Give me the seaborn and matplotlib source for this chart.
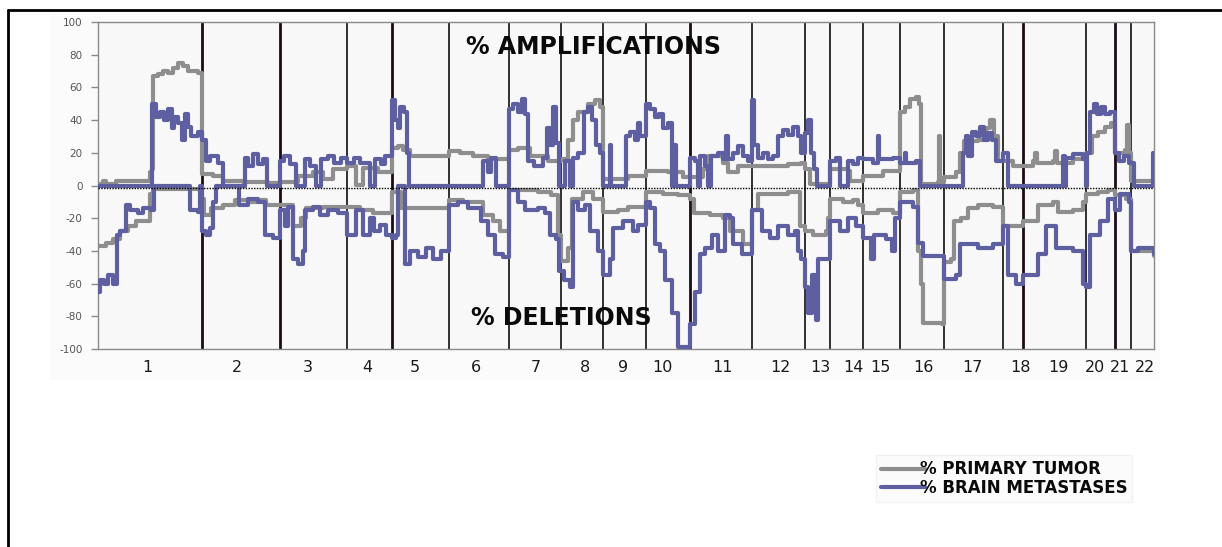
import matplotlib

# Agg backend, no display available
matplotlib.use('Agg')
import matplotlib.pyplot as plt
import seaborn as sns
import pandas as pd
from matplotlib.lines import Line2D
from matplotlib.patches import Rectangle

# ---------------------------------------------------------------
# Data (genome position index 0..1056, percent of cases)
# ---------------------------------------------------------------
chrom_bounds = [0, 104, 182, 249, 294, 351, 411, 463, 505, 548, 592, 654,
                707, 732, 765, 802, 846, 905, 925, 988, 1017, 1033, 1056]
thick_bounds = [104, 182, 294, 592, 925, 1017]
chrom_names = [str(i) for i in range(1, 23)]
chrom_label_pos = [49, 139, 210, 269, 317, 378, 438, 487, 525, 564, 625, 682,
                   722, 755, 782, 825, 874, 923, 960, 997, 1022, 1047]
y_ticks = [-100, -80, -60, -40, -20, 0, 20, 40, 60, 80, 100]

# step breakpoints: (position, percent)
tumor_amp = [
    (0, 1), (5, 3), (8, 1), (18, 3), (47, 3), (52, 8), (54, 10), (55, 67), (60, 68),
    (65, 70), (70, 69), (75, 72), (80, 75), (85, 73), (90, 70), (100, 69),
    (104, 7), (115, 6), (125, 3), (145, 2), (170, 1.5),
    (182, 2), (200, 6), (215, 8), (225, 4), (235, 10),
    (249, 12), (258, 0.5), (265, 11), (280, 8),
    (294, 23), (300, 24), (305, 22), (312, 18),
    (351, 21), (362, 20), (375, 18), (390, 16),
    (411, 22), (420, 23), (432, 18), (450, 15),
    (463, 16), (470, 28), (475, 40), (480, 45), (490, 50), (497, 52), (502, 48),
    (505, 4), (530, 6),
    (548, 9), (570, 8), (585, 5),
    (592, 5), (605, 10), (610, 18), (625, 14), (630, 8), (640, 12),
    (654, 12), (690, 13), (703, 14),
    (707, 10), (712, 1),
    (732, 10), (750, 9), (752, 3),
    (765, 6), (785, 9),
    (802, 45), (807, 48), (812, 53), (818, 54), (821, 50), (823, 1), (840, 2),
    (841, 30), (842, 2),
    (846, 5), (858, 8), (862, 20), (866, 27), (880, 28), (888, 35), (892, 40),
    (896, 30), (900, 15),
    (905, 15), (915, 12),
    (925, 12), (935, 15), (937, 20), (939, 14), (955, 15), (957, 21), (959, 14),
    (975, 16),
    (988, 20), (994, 30), (1000, 33), (1007, 36), (1013, 38),
    (1017, 20), (1027, 22), (1029, 37), (1031, 20),
    (1033, 3), (1056, 4),
]

brain_amp = [
    (0, 0), (54, 50), (58, 42), (62, 45), (66, 40), (70, 47), (74, 35), (76, 42),
    (80, 38), (84, 28), (87, 44), (90, 36), (93, 30), (100, 33),
    (104, 28), (108, 15), (112, 18), (120, 14), (125, 0),
    (147, 17), (150, 12), (155, 19), (160, 13), (165, 16), (169, 0),
    (182, 15), (186, 18), (192, 13), (198, 0), (207, 16), (212, 12), (218, 0),
    (223, 16), (230, 18), (236, 14), (243, 17),
    (249, 14), (256, 17), (262, 14), (272, 0), (277, 16), (283, 13), (287, 18),
    (294, 52), (297, 40), (300, 35), (302, 48), (306, 45), (309, 20), (311, 0),
    (385, 15), (390, 8), (393, 17), (398, 0),
    (411, 47), (415, 50), (420, 45), (424, 53), (427, 44), (430, 15), (436, 12),
    (445, 17), (449, 35), (452, 25), (455, 48), (458, 26), (461, 0),
    (467, 15), (472, 0), (475, 17), (480, 20), (486, 45), (490, 48), (494, 40),
    (498, 25), (502, 20),
    (505, 0), (512, 25), (513, 0), (528, 30), (532, 33), (537, 28), (540, 38),
    (542, 30),
    (548, 50), (552, 47), (557, 42), (561, 44), (565, 35), (570, 38), (574, 0),
    (576, 25), (578, 0),
    (592, 17), (597, 15), (600, 0), (602, 18), (607, 12), (610, 0), (613, 18),
    (620, 20), (625, 16), (628, 30), (630, 16), (635, 20), (640, 24), (645, 18),
    (650, 15),
    (654, 52), (656, 25), (660, 17), (665, 20), (670, 16), (675, 18), (680, 30),
    (685, 34), (690, 31), (695, 36), (700, 30), (703, 20),
    (707, 32), (710, 40), (713, 20), (716, 10), (719, 0),
    (732, 15), (738, 17), (742, 0), (750, 15), (755, 13), (760, 17),
    (765, 16), (775, 14), (780, 30), (781, 16), (795, 17),
    (802, 14), (807, 20), (808, 14), (818, 15), (822, 0),
    (865, 20), (868, 30), (870, 18), (874, 33), (878, 30), (882, 36), (886, 28),
    (890, 32), (894, 28), (898, 15),
    (905, 20), (910, 0),
    (965, 18), (967, 0), (968, 17), (975, 19), (985, 16), (988, 0),
    (989, 20), (992, 45), (996, 50), (999, 44), (1003, 48), (1007, 44), (1012, 45),
    (1017, 20), (1021, 15), (1026, 18), (1031, 14),
    (1036, 0), (1054, 0), (1055, 20), (1056, 20),
]

tumor_del = [
    (0, -37), (8, -35), (15, -33), (22, -28), (30, -25), (38, -22), (52, -5),
    (55, -2),
    (104, -8), (106, -18), (113, -14), (125, -12), (137, -9), (150, -10),
    (160, -9), (168, -12),
    (182, -12), (195, -25), (203, -20), (208, -14), (225, -13),
    (249, -13), (262, -15), (275, -17),
    (294, -4), (303, -14),
    (351, -9), (365, -10), (385, -18), (395, -22), (402, -28),
    (411, -3), (440, -4), (453, -6), (460, -30),
    (463, -46), (470, -38), (474, -8), (485, -4), (495, -8),
    (505, -16), (520, -15), (530, -13),
    (548, -4), (565, -5), (580, -6),
    (592, -8), (596, -17), (612, -18), (625, -20), (632, -28), (645, -36),
    (654, -15), (660, -5), (690, -4), (702, -25),
    (707, -28), (715, -30), (728, -28), (730, -20),
    (732, -8), (745, -10), (755, -9), (760, -12),
    (765, -17), (780, -15), (795, -17),
    (802, -4), (815, -3), (820, -40), (823, -60), (825, -84), (844, -85),
    (846, -47), (853, -45), (856, -22), (863, -20), (870, -14), (880, -12),
    (895, -13),
    (905, -25),
    (925, -22), (940, -12), (955, -10), (960, -16), (975, -15), (985, -10),
    (988, -5), (1000, -4), (1010, -3),
    (1017, -6), (1028, -8),
    (1033, -40), (1056, -43),
]

brain_del = [
    (0, -65), (2, -58), (6, -60), (10, -55), (15, -60), (19, -30), (22, -28),
    (28, -12), (32, -15), (40, -17), (45, -14), (53, -15), (56, 0),
    (92, -15), (100, -16), (102, 0),
    (104, -28), (108, -30), (112, -26), (115, -10), (118, 0),
    (141, -12), (150, -8), (160, -10), (167, -30), (175, -32),
    (182, -15), (187, -25), (190, -13), (195, -45), (200, -48), (205, -40),
    (207, -15), (215, -13), (222, -18), (230, -15), (240, -17),
    (249, -30), (258, -15), (265, -30), (272, -20), (276, -28), (282, -24),
    (288, -30),
    (294, -32), (298, -30), (300, 0), (307, -48), (312, -40), (320, -44),
    (328, -38), (335, -45), (343, -40),
    (351, -12), (360, -10), (370, -14), (383, -22), (390, -30), (397, -42),
    (405, -44),
    (411, -3), (420, -10), (427, -15), (440, -14), (447, -17), (452, -30),
    (458, -33),
    (461, -52), (466, -58), (472, -62), (475, -10), (480, -15), (487, -12),
    (492, -28), (500, -40),
    (505, -55), (512, -45), (515, -26), (525, -22), (535, -28), (540, -24),
    (548, -10), (552, -14), (557, -36), (562, -40), (567, -58), (574, -78),
    (580, -99),
    (592, -85), (597, -65), (602, -42), (607, -38), (614, -30), (620, -40),
    (627, -18), (632, -20), (635, -36), (644, -42),
    (654, -15), (664, -28), (672, -32), (680, -25), (690, -30), (697, -28),
    (700, -40), (703, -45),
    (707, -62), (710, -78), (714, -55), (718, -82), (720, -45),
    (732, -22), (742, -28), (750, -20), (758, -25),
    (765, -32), (773, -45), (776, -30), (788, -33), (794, -40), (797, -20),
    (802, -10), (815, -13), (820, -35), (825, -43),
    (846, -57), (858, -55), (862, -36), (880, -38), (895, -36),
    (905, -25), (910, -55), (918, -60),
    (925, -55), (940, -42), (948, -25), (958, -38), (975, -40), (985, -60),
    (988, -62), (992, -30), (1002, -22), (1010, -8),
    (1017, -15), (1022, -5), (1031, -10),
    (1033, -40), (1040, -38), (1056, -42),
]

series_labels = ['% PRIMARY TUMOR', '% BRAIN METASTASES']
gray = '#8e8e8e'
blue = '#5e5fa0'


def to_frame(points):
    return pd.DataFrame(points, columns=['pos', 'pct'])


def main():
    sns.set_style('white')
    plt.rcParams['font.family'] = ['DejaVu Sans']

    fig = plt.figure(figsize=(12.22, 5.47), dpi=100)
    fig.patch.set_facecolor('white')

    # faint chart-area panel
    fig.add_artist(Rectangle((50 / 1222, 1 - 380 / 547), 1110 / 1222, 366 / 547,
                             transform=fig.transFigure, facecolor='#fbfbfb',
                             edgecolor='none', zorder=0))

    ax = fig.add_axes([98 / 1222, 1 - 349 / 547, 1056 / 1222, 327 / 547])
    ax.set_facecolor('#f8f8f8')

    # chromosome separators
    for b in chrom_bounds[1:-1]:
        if b in thick_bounds:
            ax.axvline(b, color='#1c0c18', lw=2.0, zorder=1)
        else:
            ax.axvline(b, color='#202020', lw=1.3, zorder=1)

    for pts, col in [(tumor_amp, gray), (tumor_del, gray),
                     (brain_amp, blue), (brain_del, blue)]:
        df = to_frame(pts)
        sns.lineplot(data=df, x='pos', y='pct', color=col, lw=3.0,
                     drawstyle='steps-post', estimator=None, sort=False,
                     ax=ax, zorder=3)

    ax.axhline(-1.3, color='black', lw=1.0, ls=(0, (1, 1)), zorder=4)

    ax.set_xlim(0, 1056)
    ax.set_ylim(-100, 100)
    ax.set_yticks(y_ticks)
    ax.set_yticklabels([str(v) for v in y_ticks])
    ax.set_xticks(chrom_label_pos)
    ax.set_xticklabels(chrom_names)
    ax.set_xlabel('')
    ax.set_ylabel('')
    ax.tick_params(axis='y', direction='out', length=5, width=1, color='#8a8a8a',
                   labelsize=7.5, labelcolor='#555555', pad=6, left=True)
    ax.tick_params(axis='x', length=0, labelsize=11.5, labelcolor='#1a1a1a', pad=8)
    for sp in ax.spines.values():
        sp.set_color('#8a8a8a')
        sp.set_linewidth(1.0)

    ax.text(496, 84.5, '% AMPLIFICATIONS', ha='center', va='center',
            fontsize=17, fontweight='bold', color='#0a0a0a', zorder=6)
    ax.text(463, -81, '% DELETIONS', ha='center', va='center',
            fontsize=17, fontweight='bold', color='#0a0a0a', zorder=6)

    handles = [Line2D([], [], color=gray, lw=3), Line2D([], [], color=blue, lw=3)]
    leg = fig.legend(handles, series_labels, loc='upper left',
                     bbox_to_anchor=(868 / 1222, 1 - 447 / 547),
                     prop={'weight': 'bold', 'size': 12}, handlelength=2.6,
                     handletextpad=-0.3, labelspacing=0.05, borderpad=0.3,
                     frameon=True, fancybox=False)
    leg.get_frame().set_facecolor('#fafafa')
    leg.get_frame().set_edgecolor('#f0f0f0')
    for t in leg.get_texts():
        t.set_color('#0a0a0a')

    # outer frame of the figure (top and left edges)
    fig.add_artist(Line2D([8 / 1222, 1], [1 - 10 / 547, 1 - 10 / 547],
                          transform=fig.transFigure, color='black', lw=2))
    fig.add_artist(Line2D([8 / 1222, 8 / 1222], [0, 1 - 10 / 547],
                          transform=fig.transFigure, color='black', lw=2))

    fig.savefig('out.png', dpi=100)
    plt.close(fig)


if __name__ == '__main__':
    main()
